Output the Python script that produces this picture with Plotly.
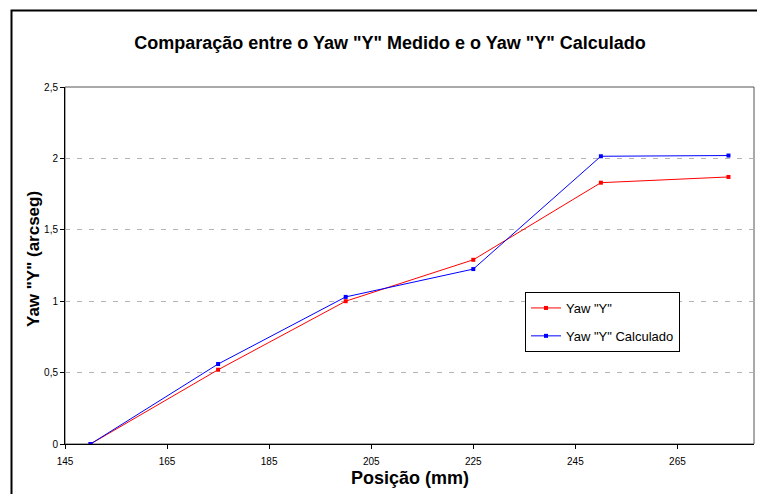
import plotly.graph_objects as go

posicao = [150, 175, 200, 225, 250, 275]
yaw_medido = [0, 0.52, 1.0, 1.29, 1.83, 1.87]
yaw_calculado = [0, 0.56, 1.03, 1.225, 2.015, 2.02]
x_ticks = [145, 165, 185, 205, 225, 245, 265]
y_ticks = [0, 0.5, 1, 1.5, 2, 2.5]

FONT = "Liberation Sans, Arial, sans-serif"

fig = go.Figure()
fig.add_trace(go.Scatter(
    x=posicao, y=yaw_medido, mode="lines+markers", name='Yaw "Y"',
    line=dict(color="#FF0000", width=1), marker=dict(symbol="square", size=4, color="#FF0000"),
    legendgroup="a"))
fig.add_trace(go.Scatter(
    x=posicao, y=yaw_calculado, mode="lines+markers", name='Yaw "Y" Calculado',
    line=dict(color="#0000FF", width=1), marker=dict(symbol="square", size=4, color="#0000FF"),
    legendgroup="b"))

L, R, T, B = 65, 3, 87, 50
W, H = 757, 494
pw, ph = W - L - R, H - T - B

def px(xp):
    return (xp - L) / pw

def py(yp):
    return (H - B - yp) / ph

fig.update_layout(
    width=W, height=H,
    margin=dict(l=L, r=R, t=T, b=B),
    paper_bgcolor="white", plot_bgcolor="white",
    separators=",.",
    font=dict(family=FONT, color="black", size=10),
    title=dict(text='<b>Comparação entre o Yaw "Y" Medido e o Yaw "Y" Calculado</b>',
               x=px(390), xref="paper", xanchor="center",
               y=1 - 43 / H, yref="container", yanchor="middle",
               font=dict(size=18, family=FONT, color="black")),
    xaxis=dict(range=[145, 280], tickvals=x_ticks, showgrid=False, zeroline=False,
               showline=True, linecolor="black", linewidth=1,
               ticks="outside", ticklen=4, tickcolor="black", ticklabelstandoff=4,
               tickfont=dict(size=10, family=FONT, color="black")),
    yaxis=dict(range=[0, 2.5], tickvals=y_ticks, showgrid=True, gridcolor="#B4B4B4",
               griddash="5px,7px", gridwidth=1, zeroline=False,
               showline=True, linecolor="black", linewidth=1,
               ticks="outside", ticklen=4, tickcolor="black",
               tickfont=dict(size=10, family=FONT, color="black")),
    showlegend=True,
    legend=dict(x=px(525), y=py(292), xanchor="left", yanchor="top",
                bgcolor="white", bordercolor="black", borderwidth=1,
                font=dict(size=13, family=FONT, color="black"),
                traceorder="grouped", tracegroupgap=8,
                itemwidth=30),
)

# plot area border (gray top/right)
fig.add_shape(type="rect", xref="paper", yref="paper", x0=0, x1=1, y0=0, y1=1,
              line=dict(color="#555555", width=1), layer="below")
# outer chart border
fig.add_shape(type="rect", xref="paper", yref="paper",
              x0=px(11.5), x1=px(800), y0=py(540), y1=py(10.5),
              line=dict(color="black", width=2))

fig.add_annotation(text="<b>Posição (mm)</b>", xref="paper", yref="paper",
                   x=px(410), y=py(478), xanchor="center", yanchor="middle",
                   showarrow=False, font=dict(size=18, family=FONT, color="black"))
fig.add_annotation(text='<b>Yaw "Y" (arcseg)</b>', xref="paper", yref="paper",
                   x=px(33), y=py(259), xanchor="center", yanchor="middle", textangle=-90,
                   showarrow=False, font=dict(size=17, family=FONT, color="black"))

fig.write_html("out.html")
